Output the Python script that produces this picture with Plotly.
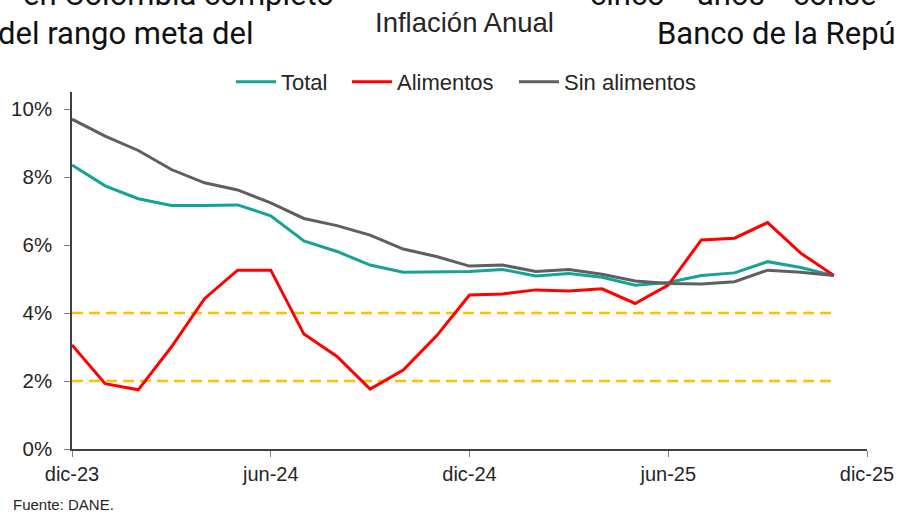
import plotly.graph_objects as go

# ---- data ----
months = ["dic-23", "ene-24", "feb-24", "mar-24", "abr-24", "may-24", "jun-24",
          "jul-24", "ago-24", "sep-24", "oct-24", "nov-24", "dic-24", "ene-25",
          "feb-25", "mar-25", "abr-25", "may-25", "jun-25", "jul-25", "ago-25",
          "sep-25", "oct-25", "nov-25"]
total = [8.35, 7.74, 7.36, 7.16, 7.16, 7.18, 6.86, 6.12, 5.81, 5.41, 5.20, 5.20,
         5.22, 5.28, 5.09, 5.16, 5.05, 4.82, 4.90, 5.10, 5.18, 5.51, 5.34, 5.10]
alimentos = [3.06, 1.92, 1.74, 3.00, 4.42, 5.26, 5.26, 3.38, 2.72, 1.76, 2.32, 3.32,
             4.53, 4.56, 4.68, 4.65, 4.71, 4.28, 4.82, 6.15, 6.20, 6.66, 5.76, 5.10]
sin_alimentos = [9.70, 9.20, 8.78, 8.22, 7.83, 7.62, 7.24, 6.78, 6.57, 6.29, 5.88, 5.66,
                 5.38, 5.41, 5.22, 5.28, 5.14, 4.94, 4.87, 4.85, 4.92, 5.26, 5.20, 5.10]
meta_sup = [4.0] * len(months)
meta_inf = [2.0] * len(months)
x_tick_labels = ["dic-23", "jun-24", "dic-24", "jun-25", "dic-25"]
y_tick_vals = [0, 2, 4, 6, 8, 10]
y_tick_labels = ["0%", "2%", "4%", "6%", "8%", "10%"]

x = list(range(len(months)))
x_tick_vals = [0, 6, 12, 18, 24]

W, H = 898, 518
L, R, T, B = 72, 31, 92, 69
plot_h = H - T - B
plot_w = W - L - R


def yp(py):
    return (H - B - py) / plot_h


def xp(px):
    return (px - L) / plot_w


chart_font = "Liberation Sans, Arial, sans-serif"
doc_font = "Roboto, sans-serif"

fig = go.Figure()
for vals in (meta_sup, meta_inf):
    fig.add_trace(go.Scatter(x=x, y=vals, mode="lines", showlegend=False,
                             hoverinfo="skip",
                             line=dict(color="#ffc000", width=2.5, dash="11px,6px")))
fig.add_trace(go.Scatter(x=x, y=total, mode="lines", name="Total", legend="legend",
                         line=dict(color="#14a396", width=3)))
fig.add_trace(go.Scatter(x=x, y=alimentos, mode="lines", name="Alimentos", legend="legend2",
                         line=dict(color="#ff0000", width=3)))
fig.add_trace(go.Scatter(x=x, y=sin_alimentos, mode="lines", name="Sin alimentos",
                         legend="legend3", line=dict(color="#5f5f5f", width=3)))


def leg(px):
    return dict(orientation="h", x=xp(px), xanchor="left", y=yp(82), yanchor="middle",
                font=dict(size=22, color="#262626", family=chart_font), itemwidth=40,
                bgcolor="rgba(0,0,0,0)", borderwidth=0)


fig.update_layout(
    width=W, height=H,
    margin=dict(l=L, r=R, t=T, b=B, pad=0, autoexpand=False),
    paper_bgcolor="white", plot_bgcolor="white",
    font=dict(family=chart_font, color="#262626", size=20),
    showlegend=True,
    legend=leg(231), legend2=leg(347), legend3=leg(514),
    xaxis=dict(range=[0, 24], tickvals=x_tick_vals, ticktext=x_tick_labels,
               showgrid=False, zeroline=False, showline=True, linecolor="#404040",
               linewidth=1.5, ticks="outside", ticklen=6, tickcolor="#808080",
               tickfont=dict(size=20), automargin=False, fixedrange=True),
    yaxis=dict(range=[0, 10.5], tickvals=y_tick_vals, ticktext=y_tick_labels,
               showgrid=False, zeroline=False, showline=True, linecolor="#404040",
               linewidth=1.5, ticks="outside", ticklen=6, tickcolor="#808080",
               tickfont=dict(size=20.5), ticklabelstandoff=8, automargin=False,
               fixedrange=True),
)

ann = []
ann.append(dict(text="Inflación Anual", x=xp(464), y=yp(22), xref="paper", yref="paper",
                xanchor="center", yanchor="middle", showarrow=False,
                font=dict(family=chart_font, size=27.5, color="#262626")))
ann.append(dict(text="Fuente: DANE.", x=xp(11), y=yp(505), xref="paper", yref="paper",
                xanchor="left", yanchor="middle", showarrow=False,
                font=dict(family=chart_font, size=15, color="#262626")))
# surrounding document text
ann.append(dict(text="en Colombia completó", x=xp(336), y=yp(-6), xref="paper", yref="paper",
                xanchor="right", yanchor="middle", showarrow=False,
                font=dict(family=doc_font, size=31, color="#111111")))
for word, left in (("cinco", 588), ("años", 695), ("conse", 791)):
    ann.append(dict(text=word, x=xp(left), y=yp(-6), xref="paper", yref="paper",
                    xanchor="left", yanchor="middle", showarrow=False,
                    font=dict(family=doc_font, size=31, color="#111111")))
ann.append(dict(text="del rango meta del", x=xp(-4), y=yp(34), xref="paper", yref="paper",
                xanchor="left", yanchor="middle", showarrow=False,
                font=dict(family=doc_font, size=31, color="#111111")))
ann.append(dict(text="Banco de la Repú", x=xp(655), y=yp(34), xref="paper", yref="paper",
                xanchor="left", yanchor="middle", showarrow=False,
                font=dict(family=doc_font, size=31, color="#111111")))
fig.update_layout(annotations=ann)

fig.write_html("out.html", config={"displayModeBar": False},
               post_script="document.body.style.margin='0';")
